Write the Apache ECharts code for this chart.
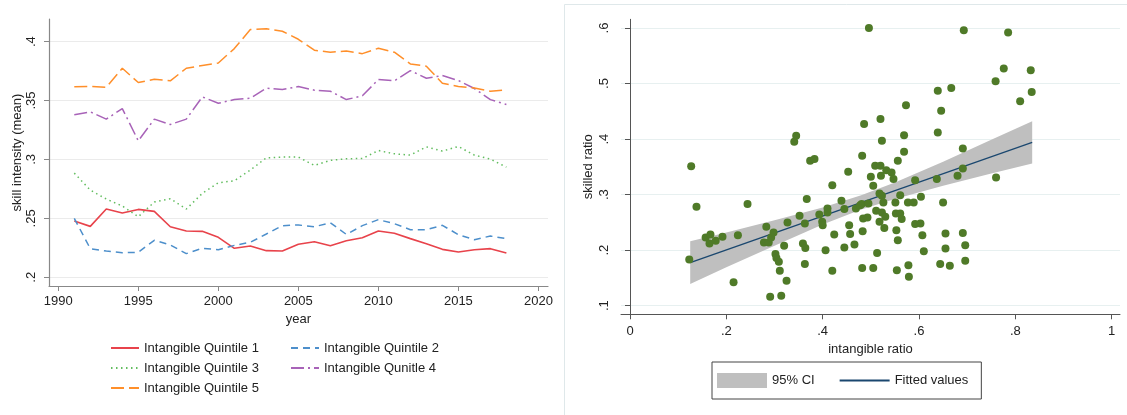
<!DOCTYPE html>
<html>
<head>
<meta charset="utf-8">
<title>Skill intensity and intangible ratio</title>
<script src="https://cdn.jsdelivr.net/npm/echarts@6/dist/echarts.min.js"></script>
<style>
  html, body { margin: 0; padding: 0; background: #fff; }
  #chart { width: 1127px; height: 415px; }
</style>
</head>
<body>
<div id="chart"></div>
<script>
// Left panel: mean skill intensity by intangible quintile, 1991-2018
const years = [1991, 1992, 1993, 1994, 1995, 1996, 1997, 1998, 1999, 2000,
  2001, 2002, 2003, 2004, 2005, 2006, 2007, 2008, 2009, 2010,
  2011, 2012, 2013, 2014, 2015, 2016, 2017, 2018];
const quintile1 = [0.2477, 0.2432, 0.2579, 0.2545, 0.2576, 0.2559, 0.2429, 0.2393, 0.2390, 0.2339,
  0.2246, 0.2266, 0.2226, 0.2223, 0.2280, 0.2302, 0.2268, 0.2310, 0.2336, 0.2393,
  0.2373, 0.2328, 0.2285, 0.2237, 0.2215, 0.2234, 0.2243, 0.2206];
const quintile2 = [0.2500, 0.2243, 0.2223, 0.2209, 0.2212, 0.2314, 0.2274, 0.2201, 0.2246, 0.2234,
  0.2271, 0.2297, 0.2367, 0.2438, 0.2444, 0.2429, 0.2463, 0.2364, 0.2438, 0.2489,
  0.2455, 0.2404, 0.2404, 0.2441, 0.2362, 0.2319, 0.2350, 0.2328];
const quintile3 = [0.2884, 0.2740, 0.2664, 0.2605, 0.2514, 0.2638, 0.2667, 0.2579, 0.2712, 0.2802,
  0.2819, 0.2910, 0.3014, 0.3020, 0.3020, 0.2949, 0.2992, 0.3006, 0.3008, 0.3076,
  0.3048, 0.3037, 0.3107, 0.3071, 0.3110, 0.3037, 0.3003, 0.2935];
const quintile4 = [0.3379, 0.3404, 0.3342, 0.3432, 0.3158, 0.3342, 0.3297, 0.3342, 0.3531, 0.3477,
  0.3508, 0.3520, 0.3605, 0.3593, 0.3619, 0.3588, 0.3579, 0.3508, 0.3540, 0.3678,
  0.3667, 0.3754, 0.3689, 0.3712, 0.3670, 0.3602, 0.3508, 0.3466];
const quintile5 = [0.3616, 0.3621, 0.3613, 0.3774, 0.3653, 0.3681, 0.3667, 0.3774, 0.3797, 0.3819,
  0.3941, 0.4102, 0.4110, 0.4088, 0.4020, 0.3927, 0.3910, 0.3921, 0.3898, 0.3944,
  0.3910, 0.3811, 0.3791, 0.3647, 0.3619, 0.3607, 0.3579, 0.3590];
const yearTicks = [1990, 1995, 2000, 2005, 2010, 2015, 2020];
const intensityTicks = [0.2, 0.25, 0.3, 0.35, 0.4];

// Right panel: firm-level skilled ratio against intangible ratio
const intangibleRatio = [
  0.127, 0.138, 0.123, 0.157, 0.167, 0.165, 0.178, 0.192, 0.224, 0.244,
  0.215, 0.283, 0.278, 0.288, 0.293, 0.298, 0.302, 0.304, 0.309, 0.311,
  0.320, 0.325, 0.291, 0.314, 0.327, 0.341, 0.345, 0.352, 0.363, 0.359,
  0.364, 0.367, 0.363, 0.374, 0.383, 0.393, 0.399, 0.400, 0.406, 0.410,
  0.410, 0.420, 0.424, 0.420, 0.439, 0.445, 0.445, 0.453, 0.455, 0.496,
  0.693, 0.785, 0.776, 0.832, 0.759, 0.834, 0.810, 0.639, 0.667, 0.646,
  0.573, 0.520, 0.486, 0.639, 0.523, 0.569, 0.691, 0.569, 0.482, 0.556,
  0.691, 0.509, 0.520, 0.532, 0.543, 0.547, 0.521, 0.500, 0.505, 0.592,
  0.637, 0.680, 0.760, 0.518, 0.523, 0.561, 0.604, 0.469, 0.481, 0.495,
  0.526, 0.551, 0.577, 0.589, 0.650, 0.511, 0.523, 0.530, 0.552, 0.561,
  0.564, 0.528, 0.518, 0.484, 0.493, 0.592, 0.603, 0.483, 0.553, 0.457,
  0.607, 0.655, 0.691, 0.556, 0.466, 0.696, 0.655, 0.610, 0.513, 0.578,
  0.644, 0.664, 0.696, 0.482, 0.505, 0.554, 0.579, 0.478];
const skilledRatio = [
  0.351, 0.278, 0.183, 0.223, 0.228, 0.212, 0.217, 0.224, 0.227, 0.283,
  0.142, 0.242, 0.214, 0.214, 0.223, 0.232, 0.193, 0.186, 0.179, 0.163,
  0.208, 0.145, 0.116, 0.118, 0.250, 0.395, 0.406, 0.262, 0.248, 0.212,
  0.204, 0.292, 0.175, 0.361, 0.364, 0.264, 0.251, 0.245, 0.200, 0.275,
  0.268, 0.317, 0.228, 0.163, 0.289, 0.274, 0.205, 0.341, 0.245, 0.600,
  0.596, 0.592, 0.527, 0.524, 0.504, 0.485, 0.468, 0.487, 0.492, 0.451,
  0.461, 0.436, 0.427, 0.412, 0.397, 0.407, 0.383, 0.377, 0.370, 0.361,
  0.347, 0.352, 0.352, 0.344, 0.340, 0.328, 0.334, 0.332, 0.316, 0.326,
  0.328, 0.334, 0.331, 0.302, 0.298, 0.299, 0.296, 0.275, 0.283, 0.284,
  0.286, 0.286, 0.286, 0.286, 0.286, 0.271, 0.268, 0.260, 0.266, 0.266,
  0.256, 0.240, 0.251, 0.257, 0.259, 0.247, 0.248, 0.234, 0.236, 0.229,
  0.227, 0.230, 0.231, 0.218, 0.210, 0.209, 0.203, 0.198, 0.195, 0.173,
  0.175, 0.172, 0.181, 0.168, 0.168, 0.164, 0.152, 0.281];
// Linear fit endpoints and its 95% confidence band
const fitX = [0.125, 0.835];
const fitY = [0.1776, 0.3942];
const ciX = [0.125, 0.2, 0.3, 0.4, 0.48, 0.55, 0.65, 0.75, 0.835];
const ciLower = [0.139, 0.169, 0.208, 0.246, 0.273, 0.292, 0.316, 0.338, 0.356];
const ciUpper = [0.216, 0.232, 0.254, 0.277, 0.299, 0.322, 0.359, 0.399, 0.432];
const ratioTicksX = [0, 0.2, 0.4, 0.6, 0.8, 1];
const ratioTicksY = [0.1, 0.2, 0.3, 0.4, 0.5, 0.6];

const FONT = '"Liberation Sans", Arial, Helvetica, sans-serif';
const TEXT = '#222';
const dropZero = v => String(+(+v).toFixed(2)).replace(/^0\./, '.');
const plainYear = v => String(Math.round(v));

const pairs = (xs, ys) => xs.map((x, i) => [x, ys[i]]);

function quintileSeries(name, values, color, dash, width) {
  return {
    name, type: 'line', xAxisIndex: 0, yAxisIndex: 0,
    data: pairs(years, values),
    symbol: 'none', smooth: false, animation: false,
    lineStyle: { color, width: width || 1.5, type: dash, cap: 'butt' },
    itemStyle: { color }
  };
}

const chart = echarts.init(document.getElementById('chart'), null, { renderer: 'canvas' });

chart.setOption({
  animation: false,
  backgroundColor: '#fff',
  textStyle: { fontFamily: FONT, color: TEXT },
  graphic: [{
    type: 'rect', silent: true, z: -10,
    shape: { x: 564.5, y: 4.5, width: 620, height: 430 },
    style: { fill: 'none', stroke: '#dfe8ea', lineWidth: 1 }
  }],
  grid: [
    { left: 49, right: 579, top: 19, bottom: 129, outerBoundsMode: 'none', containLabel: false },
    { left: 621, right: 7, top: 19.3, bottom: 100.7, outerBoundsMode: 'none', containLabel: false }
  ],
  xAxis: [
    {
      gridIndex: 0, type: 'value', min: 1989.42, max: 2020.6,
      name: 'year', nameLocation: 'middle', nameGap: 26,
      nameTextStyle: { fontSize: 13, color: TEXT, fontFamily: FONT },
      axisLine: { lineStyle: { color: '#888', width: 1.2 } },
      axisTick: { customValues: yearTicks, length: 5, lineStyle: { color: '#888' } },
      axisLabel: { customValues: yearTicks, fontSize: 13, color: TEXT, margin: 9, fontFamily: FONT, formatter: plainYear },
      splitLine: { show: false }
    },
    {
      gridIndex: 1, type: 'value', min: -0.0187, max: 1.0173,
      name: 'intangible ratio', nameLocation: 'middle', nameGap: 25,
      nameTextStyle: { fontSize: 13, color: TEXT, fontFamily: FONT },
      axisLine: { lineStyle: { color: '#555', width: 1 } },
      axisTick: { customValues: ratioTicksX, length: 5, lineStyle: { color: '#555' } },
      axisLabel: { customValues: ratioTicksX, fontSize: 13, color: TEXT, margin: 11, fontFamily: FONT, formatter: dropZero },
      splitLine: { show: false }
    }
  ],
  yAxis: [
    {
      gridIndex: 0, type: 'value', min: 0.1926, max: 0.4192,
      name: 'skill intensity (mean)', nameLocation: 'middle', nameGap: 23,
      nameTextStyle: { fontSize: 13, color: TEXT, fontFamily: FONT },
      axisLine: { lineStyle: { color: '#888', width: 1.2 } },
      axisTick: { customValues: intensityTicks, length: 5, lineStyle: { color: '#888' } },
      axisLabel: { customValues: intensityTicks, fontSize: 13, color: TEXT, margin: 11, rotate: 90, fontFamily: FONT, formatter: dropZero },
      splitLine: { show: true, lineStyle: { color: '#ebebeb', width: 1 } }
    },
    {
      gridIndex: 1, type: 'value', min: 0.0845, max: 0.6157,
      name: 'skilled ratio', nameLocation: 'middle', nameGap: 26,
      nameTextStyle: { fontSize: 13, color: TEXT, fontFamily: FONT },
      axisLine: { lineStyle: { color: '#555', width: 1 } },
      axisTick: { customValues: ratioTicksY, length: 5, lineStyle: { color: '#555' } },
      axisLabel: { customValues: ratioTicksY, fontSize: 13, color: TEXT, margin: 10, rotate: 90, fontFamily: FONT, formatter: dropZero },
      splitLine: { show: true, lineStyle: { color: '#e7f0f0', width: 1 } }
    }
  ],
  legend: [
    {
      left: 110, top: 341, width: 370, orient: 'horizontal',
      itemWidth: 28, itemHeight: 14, itemGap: 6, padding: 0,
      itemStyle: { opacity: 0 },
      data: ['Intangible Quintile 1', 'Intangible Quintile 2', 'Intangible Quintile 3',
             'Intangible Qunitle 4', 'Intangible Quintile 5'],
      textStyle: { fontSize: 13, color: TEXT, fontFamily: FONT, width: 140, lineHeight: 14 },
      selectedMode: false
    },
    {
      left: 712, top: 362, orient: 'horizontal',
      itemWidth: 50, itemHeight: 15, itemGap: 24,
      padding: [11, 13, 11, 5],
      borderColor: '#444', borderWidth: 1, borderRadius: 0, backgroundColor: '#fff',
      data: [
        { name: '95% CI', icon: 'rect' },
        { name: 'Fitted values', itemStyle: { opacity: 0 } }
      ],
      textStyle: { fontSize: 13, color: TEXT, fontFamily: FONT },
      selectedMode: false
    }
  ],
  series: [
    quintileSeries('Intangible Quintile 1', quintile1, '#e8434b', 'solid', 1.6),
    quintileSeries('Intangible Quintile 2', quintile2, '#4d8fcb', [7, 5]),
    quintileSeries('Intangible Quintile 3', quintile3, '#62bd5f', [1.5, 3.5]),
    quintileSeries('Intangible Qunitle 4', quintile4, '#a863b8', [13, 4, 2, 4]),
    quintileSeries('Intangible Quintile 5', quintile5, '#ff8f2a', [13, 5]),
    {
      name: '95% CI', type: 'custom', xAxisIndex: 1, yAxisIndex: 1,
      coordinateSystem: 'cartesian2d',
      data: [[ciX[0], ciLower[0]]],
      itemStyle: { color: '#bfbfbf' },
      silent: true, z: 1,
      renderItem: (params, api) => {
        const upper = ciX.map((x, i) => api.coord([x, ciUpper[i]]));
        const lower = ciX.map((x, i) => api.coord([x, ciLower[i]])).reverse();
        return {
          type: 'polygon',
          shape: { points: upper.concat(lower) },
          style: { fill: '#bfbfbf', stroke: 'none' }
        };
      }
    },
    {
      name: 'Fitted values', type: 'line', xAxisIndex: 1, yAxisIndex: 1,
      data: pairs(fitX, fitY), symbol: 'none', z: 2,
      lineStyle: { color: '#1a476f', width: 1.3 }, itemStyle: { color: '#1a476f' }
    },
    {
      name: 'firms', type: 'scatter', xAxisIndex: 1, yAxisIndex: 1,
      data: pairs(intangibleRatio, skilledRatio), z: 3,
      symbol: 'circle', symbolSize: 8,
      itemStyle: { color: '#4f7a28', opacity: 1 }
    }
  ]
});
</script>
</body>
</html>
